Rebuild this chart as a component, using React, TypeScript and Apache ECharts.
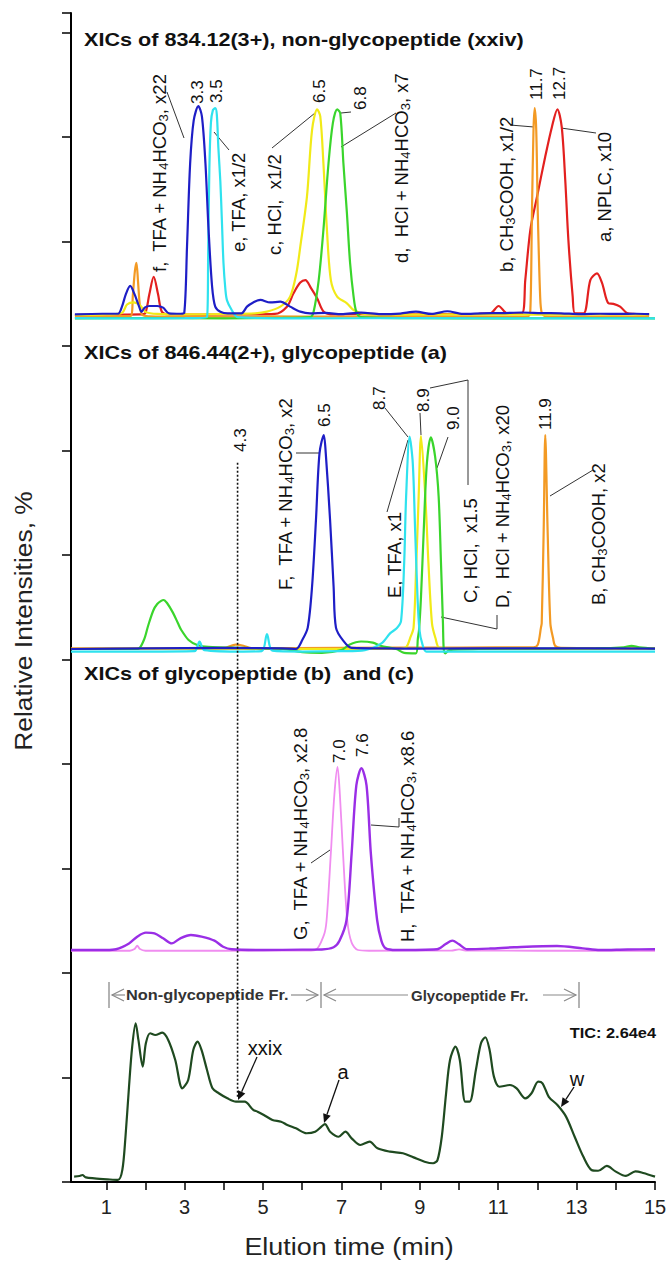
import React, { useEffect, useRef } from "react";
import * as echarts from "echarts";

// ---------- axis settings ----------
const X_MIN = 0.1;
const X_MAX = 15;
const xTickValues = [1, 2, 3, 4, 5, 6, 7, 8, 9, 10, 11, 12, 13, 14, 15];
const xLabelValues = [1, 3, 5, 7, 9, 11, 13, 15];
const yTickCount = 11.187; // overall frame in tick units (ticks every 1)

// ---------- Panel 1: XICs of 834.12(3+), non-glycopeptide ----------
const p1Red: [number, number][] = [
  [0.2, 0], [1.0, 0.2], [1.9, 0.3], [2.0, 1], [2.1, 10], [2.21, 18.3], [2.32, 10], [2.42, 1.5], [2.6, 0.3],
  [3.5, 0.2], [4.5, 0.3], [5.3, 0.5], [5.61, 4], [5.78, 10.5], [5.95, 15.5], [6.08, 16.7], [6.22, 13],
  [6.38, 8], [6.55, 1.5], [6.8, 0.3], [7.5, 0.5], [8.5, 0.3], [9.5, 0.4], [10.5, 0.6], [10.8, 0.8],
  [11.01, 4.3], [11.23, 0.8], [11.6, 0.8], [11.69, 16.7], [11.82, 40.7], [11.99, 56.6], [12.2, 75.8],
  [12.37, 90], [12.51, 98.4], [12.62, 90], [12.71, 64.6], [12.79, 35.9], [12.9, 8.8], [12.96, 0.8],
  [13.18, 0.8], [13.35, 16.7], [13.52, 19.9], [13.65, 15.2], [13.81, 5.6], [13.94, 5.3], [14.11, 4],
  [14.28, 1], [14.45, 0.5], [14.85, 0.3],
];
const p1Orange: [number, number][] = [
  [0.2, -0.8], [1.0, -0.6], [1.62, -0.5], [1.68, 10], [1.73, 21], [1.77, 25], [1.81, 16], [1.86, 4],
  [1.92, 0], [2.1, -0.6], [3.0, -0.8], [5.0, -0.7], [7.0, -0.8], [9.0, -0.6], [11.0, -0.8], [11.76, -0.6],
  [11.82, 2.4], [11.86, 48.6], [11.9, 88.5], [11.93, 99], [11.97, 88.5], [12.01, 48.6], [12.07, 8.8],
  [12.11, 1], [12.2, -0.6], [13.0, -0.8], [14.0, -0.7], [14.85, -0.8],
];
const p1Yellow: [number, number][] = [
  [0.2, 0], [1.0, 0.3], [1.4, 1], [1.53, 5], [1.7, 6], [1.87, 4.5], [2.0, 1.5], [2.3, 0.5], [3.0, 0.3],
  [4.0, 0.5], [4.8, 0.8], [5.1, 1.6], [5.44, 4], [5.69, 8.8], [5.85, 20], [5.95, 32.7], [6.12, 56.6],
  [6.25, 88.5], [6.38, 98.4], [6.46, 95], [6.54, 72.6], [6.63, 40.7], [6.73, 16.7], [6.89, 8.8],
  [7.14, 5.6], [7.31, 2.4], [7.6, 0.5], [8.5, 0.2], [10, 0.3], [12, 0.2], [14, 0.3], [14.85, 0.2],
];
const p1Green: [number, number][] = [
  [0.2, -1.6], [2, -1.5], [4, -1.6], [5.5, -1.4], [6.2, -1], [6.29, 1.6], [6.42, 16.7], [6.54, 40.7],
  [6.67, 72.6], [6.78, 91.7], [6.89, 98.4], [6.97, 96.5], [7.05, 72.6], [7.14, 48.6], [7.22, 25],
  [7.31, 8.8], [7.38, 1.5], [7.5, -1], [9, -1.5], [11, -1.6], [13, -1.5], [15, -1.6],
];
const p1Cyan: [number, number][] = [
  [0.2, -1.5], [1.5, -1.6], [3.0, -1.5], [3.57, -1], [3.6, 30], [3.63, 70], [3.67, 92], [3.72, 98],
  [3.78, 99], [3.82, 96], [3.86, 80], [3.91, 64], [3.95, 45], [3.99, 25], [4.04, 12], [4.08, 7],
  [4.2, 2.4], [4.35, -1], [6, -1.6], [9, -1.5], [12, -1.6], [15, -1.6],
];
const p1Blue: [number, number][] = [
  [0.2, 0.3], [0.9, 0.6], [1.3, 0.6], [1.4, 4], [1.5, 10], [1.61, 13.9], [1.72, 10], [1.82, 5], [1.9, 1.5],
  [1.98, 3.5], [2.1, 4.3], [2.3, 4.3], [2.45, 3.5], [2.6, 0.8], [2.9, 0.6], [2.99, 1], [3.06, 32.7],
  [3.14, 72.6], [3.23, 93], [3.35, 100], [3.44, 95], [3.53, 72.6], [3.61, 40.7], [3.7, 13.6], [3.78, 4],
  [3.91, 1.6], [4.1, 0.8], [4.45, 0.8], [4.59, 4], [4.75, 6], [4.93, 7.2], [5.18, 6], [5.44, 6.4],
  [5.69, 4], [5.95, 1.6], [6.2, 0.8], [6.6, 1], [7.0, 0.4], [7.5, 1.1], [8.0, 0.4], [8.5, 0.7], [8.9, 1.6],
  [9.3, 0.5], [9.7, 1.8], [10.1, 0.5], [10.6, 0.8], [11.1, 0.9], [11.6, 1.2], [12.1, 0.9], [12.6, 0.8],
  [13.1, 0.4], [13.6, 0.6], [14.1, 0.5], [14.5, 0.6], [14.85, 0.4],
];

// ---------- Panel 2: XICs of 846.44(2+), glycopeptide (a) ----------
const p2Orange: [number, number][] = [
  [0.1, 0.3], [2, 0.3], [4.0, 0.5], [4.3, 2], [4.5, 1.5], [4.7, 0.4], [7, 0.5], [10, 0.7], [11.9, 0.8],
  [12.01, 2], [12.09, 10], [12.11, 12], [12.16, 55.6], [12.2, 100], [12.26, 55.6], [12.33, 12],
  [12.4, 5], [12.45, 1.5], [12.6, 0.5], [15, 0.3],
];
const p2Yellow: [number, number][] = [
  [0.1, 0], [3, 0.2], [6, 0], [8.5, 0], [8.66, 1], [8.75, 5], [8.84, 10], [8.91, 40], [8.97, 71.2],
  [9.03, 99.5], [9.14, 71.2], [9.22, 40], [9.31, 12], [9.4, 5], [9.5, 0.5], [10, 0], [15, 0],
];
const p2Green: [number, number][] = [
  [0.1, 0], [1.0, 0], [1.8, 0], [1.96, 4.2], [2.07, 11], [2.2, 18], [2.3, 21], [2.4, 22.5], [2.46, 22.9],
  [2.55, 21.5], [2.7, 17], [2.83, 12], [2.91, 9], [3.1, 4.2], [3.32, 1.9], [3.6, 1], [4.5, 0.5],
  [5.5, 0], [6.0, -1.5], [6.5, -1.8], [7.0, -0.5], [7.2, 2], [7.5, 3.5], [7.8, 3], [8.0, 1.5], [8.4, 0],
  [8.6, -1.8], [8.9, -2], [8.95, 5], [8.98, 8.9], [9.03, 24.5], [9.1, 55.6], [9.18, 86.8], [9.28, 98.9],
  [9.39, 89.9], [9.48, 71.2], [9.54, 40], [9.59, 12], [9.61, 0], [9.65, -2], [9.75, -0.5], [10.5, 0],
  [12, 0.2], [13.5, 0.3], [14.2, 0.8], [14.4, 1.5], [14.6, 0.8], [15, 0.2],
];
const p2Cyan: [number, number][] = [
  [0.1, -1.2], [2, -1.2], [3.25, -1], [3.38, 3.4], [3.5, -0.5], [4.5, -1.2], [4.97, -1], [5.1, 7],
  [5.24, -0.8], [6, -1.2], [7, -1], [7.6, -0.5], [8.02, 2.6], [8.24, 7.3], [8.41, 9.7], [8.52, 13],
  [8.6, 40], [8.65, 71.2], [8.74, 99.2], [8.82, 86.8], [8.88, 55.6], [8.94, 24.5], [8.99, 9], [9.06, 2.6],
  [9.17, -1.2], [11, -1.2], [13, -1.2], [15, -1.2],
];
const p2Blue: [number, number][] = [
  [0.1, 0], [2, 0.3], [4, 0.5], [5.5, 0.3], [5.84, 0], [6.0, 4.2], [6.14, 10], [6.25, 29.1], [6.35, 60.3],
  [6.44, 91.4], [6.55, 100], [6.6, 91.4], [6.71, 60.3], [6.8, 29.1], [6.86, 10], [7.04, 4], [7.26, 0.5],
  [9, 0.2], [12, 0.3], [15, 0.2],
];

// ---------- Panel 3: XICs of glycopeptide (b) and (c) ----------
const p3Pink: [number, number][] = [
  [0.1, -0.4], [1.6, -0.4], [1.72, 0.5], [1.79, 2.4], [1.86, 0.5], [2.0, -0.4], [4, -0.4], [6.0, -0.3],
  [6.33, 0], [6.55, 8], [6.62, 16], [6.73, 53], [6.82, 85], [6.9, 100], [6.96, 85], [7.04, 53],
  [7.15, 16], [7.26, 4], [7.42, 0], [7.7, -0.4], [9.8, -0.3], [10, 0.3], [10.2, -0.3], [12, -0.4], [15, -0.4],
];
const p3Purple: [number, number][] = [
  [0.1, 0], [1.0, 0], [1.25, 0.4], [1.58, 3.6], [1.79, 7.3], [2.01, 9.5], [2.23, 9.1], [2.45, 6.4],
  [2.67, 3.6], [2.89, 6.4], [3.16, 8.2], [3.43, 7.3], [3.76, 5.1], [3.98, 1.8], [4.2, 0.4], [5, 0],
  [6.0, 0.2], [6.5, 0.3], [6.8, 1.5], [6.95, 5], [7.13, 16.4], [7.26, 52.8], [7.38, 90], [7.51, 99.3],
  [7.64, 90], [7.75, 52.8], [7.91, 16.4], [8.02, 5], [8.13, 0.9], [8.4, 0], [9.44, 0.4], [9.66, 3.3],
  [9.83, 5.1], [9.99, 3.3], [10.21, 0.4], [10.8, 0.8], [11.41, 1.5], [12.5, 2.2], [13.16, 0.9],
  [13.6, 0], [14.3, 0.3], [15, 0.4],
];

// ---------- Panel 4: TIC ----------
const p4Tic: [number, number][] = [
  [0.18, 3.4], [0.32, 3.8], [0.39, 4.4], [0.48, 2.9], [0.7, 2.3], [1.03, 1.7], [1.3, 1.3], [1.41, 7.6],
  [1.49, 28.5], [1.58, 60], [1.66, 85], [1.75, 100], [1.82, 89.5], [1.93, 72.7], [2.01, 87.4],
  [2.12, 93.7], [2.25, 92.6], [2.43, 94.1], [2.58, 89.5], [2.76, 76.9], [2.94, 59], [3.09, 64.3],
  [3.22, 83.2], [3.33, 88.4], [3.43, 83.2], [3.57, 70.6], [3.71, 59], [3.87, 55.9], [4.09, 52.7],
  [4.31, 50.6], [4.53, 50.6], [4.75, 45.4], [4.86, 44.3], [5.02, 42.2], [5.24, 39.1], [5.46, 38],
  [5.62, 35.9], [5.84, 33.8], [6.11, 30.7], [6.33, 31.7], [6.49, 34.9], [6.58, 36.5], [6.71, 31.7],
  [6.93, 28.5], [7.1, 31.7], [7.26, 27.5], [7.48, 23.3], [7.72, 25.4], [7.92, 21.2], [8.24, 19.1],
  [8.57, 18.1], [8.84, 15.5], [9.12, 12.8], [9.34, 11.8], [9.45, 13.8], [9.56, 28.5], [9.67, 55.9],
  [9.77, 76.9], [9.91, 85.3], [10.02, 76.9], [10.16, 50.6], [10.27, 50.6], [10.43, 70.6], [10.56, 87.4],
  [10.67, 91.2], [10.78, 83.2], [10.89, 66.4], [11.03, 60], [11.3, 61.1], [11.47, 59], [11.69, 52.7],
  [11.85, 55.9], [12.02, 63.2], [12.13, 62.2], [12.29, 53.7], [12.51, 48.5], [12.73, 41.2],
  [12.95, 28.5], [13.17, 16], [13.38, 7.6], [13.55, 7.1], [13.77, 10.1], [13.99, 6.7], [14.26, 3.8],
  [14.5, 6.7], [14.7, 5.7], [15.0, 3.4],
];

// dotted marker at 4.3 min, spanning panels 2-4 (in frame tick units)
const dottedTime = 4.35;
const dottedSpan = [0.816, 6.893];

// ---------- Colors ----------
const C = {
  red: "#e3201f",
  orange: "#f39a24",
  yellow: "#f1ea18",
  green: "#3ad52c",
  cyan: "#2fe2ee",
  blue: "#1e1ec6",
  pink: "#f08df0",
  purple: "#9a2ee6",
  tic: "#1f4a20",
};

const FONT = '"Liberation Sans", Arial, Helvetica, sans-serif';

// panel grids
const panels = [
  { top: 85.1, height: 240.35, min: -5, max: 110 },
  { top: 413.6, height: 246.1, min: -5, max: 110 },
  { top: 748.7, height: 210.45, min: -5, max: 110 },
  { top: 1007.4, height: 174.6, min: 0, max: 110 },
];

function richText(s: string) {
  return "{n|" + s.replace(/_(\d)/g, "}{s|$1}{n|") + "}";
}

function rotLabel(text: string, x: number, y: number, size = 18.5) {
  return {
    type: "text",
    x,
    y,
    rotation: Math.PI / 2,
    silent: true,
    style: {
      text: richText(text),
      align: "left",
      verticalAlign: "middle",
      fill: "#111",
      rich: {
        n: { fontFamily: FONT, fontSize: size, fill: "#111", lineHeight: size + 2, verticalAlign: "middle" },
        s: { fontFamily: FONT, fontSize: Math.round(size * 0.72), fill: "#111", lineHeight: size + 3, verticalAlign: "bottom" },
      },
    },
  };
}

function lineEl(x1: number, y1: number, x2: number, y2: number, stroke = "#333", w = 1) {
  return { type: "line", silent: true, shape: { x1, y1, x2, y2 }, style: { stroke, lineWidth: w } };
}
function polyEl(points: number[][], stroke = "#333", w = 1) {
  return { type: "polyline", silent: true, shape: { points }, style: { stroke, lineWidth: w, fill: null } };
}
function arrowEl(x1: number, y1: number, x2: number, y2: number) {
  const dx = x2 - x1, dy = y2 - y1;
  const L = Math.sqrt(dx * dx + dy * dy);
  const ux = dx / L, uy = dy / L;
  const hl = 9, hw = 4;
  const bx = x2 - ux * hl, by = y2 - uy * hl;
  return [
    lineEl(x1, y1, bx, by, "#111", 1.3),
    {
      type: "polygon",
      silent: true,
      shape: { points: [[x2, y2], [bx - uy * hw, by + ux * hw], [bx + uy * hw, by - ux * hw]] },
      style: { fill: "#111" },
    },
  ];
}
function chevron(x: number, y: number, dir: number) {
  return polyEl([[x - dir * 12, y - 6], [x, y], [x - dir * 12, y + 6]], "#8a8a8a", 1.2);
}
function textEl(text: string, x: number, y: number, opts: any = {}) {
  const { size = 18, bold = false, align = "left", fill = "#111", scaleX = 1, rotation = 0 } = opts;
  return {
    type: "text",
    x,
    y,
    scaleX,
    rotation,
    silent: true,
    style: {
      text,
      fontFamily: FONT,
      fontSize: size,
      fontWeight: bold ? "bold" : "normal",
      fill,
      align,
      verticalAlign: "middle",
    },
  };
}

export default function App() {
  const ref = useRef<HTMLDivElement>(null);

  useEffect(() => {
    if (!ref.current) return;
    document.body.style.margin = "0";
    document.body.style.overflow = "hidden";
    const chart = echarts.init(ref.current, undefined, { renderer: "svg" });

    const grids: any[] = panels.map((p) => ({ left: 71, width: 584, top: p.top, height: p.height }));
    grids.push({ left: 71, width: 584, top: 13, height: 1169 });

    const hiddenX = (i: number) => ({
      type: "value", gridIndex: i, min: X_MIN, max: X_MAX, show: false,
    });
    const xAxes: any[] = [hiddenX(0), hiddenX(1), hiddenX(2),
      {
        type: "value", gridIndex: 3, min: X_MIN, max: X_MAX,
        axisLine: { show: true, onZero: false, lineStyle: { color: "#000", width: 2 } },
        axisTick: { show: true, inside: false, length: 8, customValues: xTickValues, lineStyle: { color: "#000", width: 1.5 } },
        axisLabel: { show: true, customValues: xLabelValues, fontSize: 20, fontFamily: FONT, color: "#222", margin: 15 },
        splitLine: { show: false },
      },
      hiddenX(4),
    ];
    const yAxes: any[] = panels.map((p, i) => ({
      type: "value", gridIndex: i, min: p.min, max: p.max, show: false,
    }));
    yAxes.push({
      type: "value", gridIndex: 4, min: 0, max: yTickCount, interval: 1,
      axisLine: { show: true, lineStyle: { color: "#000", width: 2 } },
      axisTick: { show: true, inside: false, length: 9, lineStyle: { color: "#000", width: 1.5 } },
      axisLabel: { show: false },
      splitLine: { show: false },
    });

    const mk = (data: [number, number][], color: string, gi: number, width = 2.2, z = 2) => ({
      type: "line", data, xAxisIndex: gi, yAxisIndex: gi, symbol: "none", smooth: 0.3,
      lineStyle: { color, width }, z, silent: true, clip: false,
    });

    const series: any[] = [
      mk(p1Red, C.red, 0), mk(p1Orange, C.orange, 0), mk(p1Yellow, C.yellow, 0), mk(p1Green, C.green, 0),
      mk(p1Cyan, C.cyan, 0), mk(p1Blue, C.blue, 0, 2.2, 3),
      mk(p2Orange, C.orange, 1), mk(p2Yellow, C.yellow, 1), mk(p2Green, C.green, 1), mk(p2Cyan, C.cyan, 1),
      mk(p2Blue, C.blue, 1, 2.2, 3),
      mk(p3Pink, C.pink, 2, 1.8), mk(p3Purple, C.purple, 2, 2.4, 3),
      mk(p4Tic, C.tic, 3, 2.2),
      {
        type: "line", xAxisIndex: 4, yAxisIndex: 4, symbol: "none", silent: true,
        data: [[dottedTime, dottedSpan[0]], [dottedTime, dottedSpan[1]]],
        lineStyle: { color: "#111", width: 1.6, type: [2, 2] }, z: 4,
      },
    ];

    const graphic: any[] = [
      // panel titles
      textEl("XICs of 834.12(3+), non-glycopeptide (xxiv)", 84, 40, { size: 18, bold: true, scaleX: 1.2 }),
      textEl("XICs of 846.44(2+), glycopeptide (a)", 84, 353, { size: 18, bold: true, scaleX: 1.2 }),
      textEl("XICs of glycopeptide (b)  and (c)", 84, 674, { size: 18, bold: true, scaleX: 1.2 }),
      // axis titles
      textEl("Relative Intensities, %", 23, 621, { size: 24, align: "center", rotation: Math.PI / 2, scaleX: 1.1, fill: "#222" }),
      textEl("Elution time (min)", 349, 1247, { size: 23, align: "center", scaleX: 1.17, fill: "#222" }),

      // panel 1 labels
      rotLabel("f,  TFA + NH_4HCO_3, x22", 159, 272),
      rotLabel("3.3", 197, 104, 17),
      rotLabel("3.5", 216, 103, 17),
      rotLabel("e, TFA, x1/2", 238, 252),
      rotLabel("c, HCl,  x1/2", 274, 255),
      rotLabel("6.5", 319, 103, 17),
      rotLabel("6.8", 360, 110, 17),
      rotLabel("d,  HCl + NH_4HCO_3, x7", 401, 263),
      rotLabel("b, CH_3COOH, x1/2", 506, 272),
      rotLabel("11.7", 536, 100, 17),
      rotLabel("12.7", 559, 100, 17),
      rotLabel("a, NPLC, x10", 604, 242),
      lineEl(167, 92, 184, 138),
      lineEl(214, 132, 229, 150),
      lineEl(272, 148, 315, 113),
      lineEl(341, 113, 351, 112),
      lineEl(341, 147, 396, 113),
      lineEl(510, 125, 534, 127),
      lineEl(561, 128, 596, 133),

      // panel 2 labels
      rotLabel("F,  TFA + NH_4HCO_3, x2", 285, 590),
      rotLabel("6.5", 324, 427, 17),
      rotLabel("4.3", 240, 452, 17),
      rotLabel("8.7", 379, 410, 17),
      rotLabel("E, TFA, x1", 394, 598),
      rotLabel("8.9", 423, 412, 17),
      rotLabel("9.0", 453, 430, 17),
      rotLabel("C, HCl,  x1.5", 470, 603),
      rotLabel("D,  HCl + NH_4HCO_3, x20", 502, 608),
      rotLabel("11.9", 545, 430, 17),
      rotLabel("B, CH_3COOH, x2", 598, 605),
      lineEl(296, 453, 319, 453),
      lineEl(385, 408, 408, 437),
      lineEl(408, 440, 387, 512),
      lineEl(420, 413, 421, 435),
      polyEl([[430, 388], [468, 380], [468, 485]]),
      lineEl(448, 437, 437, 468),
      polyEl([[441, 617], [497, 629], [497, 615]]),
      lineEl(550, 496, 593, 470),

      // panel 3 labels
      rotLabel("G,  TFA + NH_4HCO_3, x2.8", 300, 940),
      rotLabel("7.0", 339, 763, 17),
      rotLabel("7.6", 362, 757, 17),
      rotLabel("H,  TFA + NH_4HCO_3, x8.6", 407, 942),
      lineEl(311, 863, 330, 850),
      polyEl([[371, 825], [399, 827], [399, 818]]),

      // fraction brackets
      lineEl(109, 982, 109, 1008, "#8a8a8a", 1.3),
      lineEl(321, 982, 321, 1008, "#8a8a8a", 1.3),
      lineEl(579, 982, 579, 1008, "#8a8a8a", 1.3),
      chevron(112, 995, -1),
      lineEl(112, 995, 125, 995, "#8a8a8a", 1.2),
      textEl("Non-glycopeptide Fr.", 126, 995, { size: 15, bold: true, scaleX: 1.09, fill: "#333" }),
      lineEl(291, 995, 318, 995, "#8a8a8a", 1.2),
      chevron(318, 995, 1),
      chevron(324, 995, -1),
      lineEl(324, 995, 408, 995, "#8a8a8a", 1.2),
      textEl("Glycopeptide Fr.", 411, 995, { size: 15, bold: true, fill: "#333" }),
      lineEl(543, 995, 576, 995, "#8a8a8a", 1.2),
      chevron(576, 995, 1),

      // TIC annotations
      textEl("TIC: 2.64e4", 656, 1033, { size: 15, bold: true, align: "right", scaleX: 1.09, fill: "#111" }),
      textEl("xxix", 265, 1048, { size: 20, align: "center" }),
      textEl("a", 343, 1072, { size: 20, align: "center" }),
      textEl("w", 577, 1079, { size: 20, align: "center" }),
      ...arrowEl(257, 1057, 238, 1100),
      ...arrowEl(339, 1080, 324, 1123),
      ...arrowEl(574, 1087, 561, 1107),
    ];

    chart.setOption({
      animation: false,
      backgroundColor: "#ffffff",
      grid: grids,
      xAxis: xAxes,
      yAxis: yAxes,
      series,
      graphic,
    });

    return () => chart.dispose();
  }, []);

  return <div ref={ref} style={{ position: "absolute", left: 0, top: 0, width: 672, height: 1262 }} />;
}
